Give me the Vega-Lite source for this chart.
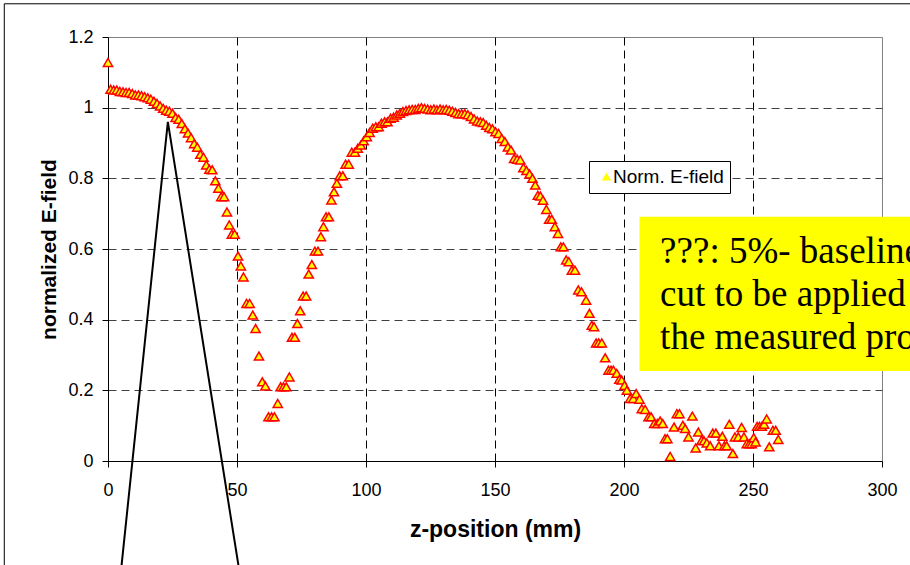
{
  "$schema": "https://vega.github.io/schema/vega-lite/v6.json",
  "width": 774,
  "height": 424,
  "autosize": {"type": "none"},
  "padding": {"left": 108, "top": 37, "right": 28, "bottom": 104},
  "background": "white",
  "config": {
    "view": {"stroke": "#808080", "strokeWidth": 1},
    "axis": {
      "labelFont": "Liberation Sans", "labelFontSize": 18, "labelColor": "#000",
      "titleFont": "Liberation Sans", "titleFontWeight": "bold", "titleColor": "#000",
      "domainColor": "#000", "tickColor": "#000", "tickSize": 6,
      "gridDash": [8, 5], "gridWidth": 1,
      "labelFlush": false, "labelOverlap": false, "labelBound": false
    }
  },
  "datasets": {
    "field": [
      {"z":0.0,"e":1.128},{"z":1.0,"e":1.052},{"z":2.2,"e":1.050},{"z":3.4,"e":1.050},{"z":4.6,"e":1.046},{"z":5.8,"e":1.045},{"z":7.0,"e":1.043},{"z":8.2,"e":1.043},{"z":9.4,"e":1.040},{"z":10.6,"e":1.036},{"z":11.8,"e":1.036},{"z":13.0,"e":1.034},{"z":14.2,"e":1.031},{"z":15.4,"e":1.028},{"z":16.6,"e":1.024},{"z":17.8,"e":1.018},{"z":19.0,"e":1.012},{"z":20.2,"e":1.005},{"z":21.4,"e":0.998},{"z":22.6,"e":0.993},{"z":23.8,"e":0.990},{"z":25.0,"e":0.984},{"z":26.2,"e":0.972},{"z":27.4,"e":0.967},{"z":28.6,"e":0.955},{"z":29.8,"e":0.940},{"z":31.0,"e":0.928},{"z":32.2,"e":0.915},{"z":33.4,"e":0.898},{"z":34.6,"e":0.888},{"z":35.8,"e":0.868},
      {"z":37.0,"e":0.860},{"z":38.1,"e":0.838},{"z":39.3,"e":0.826},{"z":40.4,"e":0.824},{"z":41.6,"e":0.793},{"z":42.8,"e":0.772},{"z":43.9,"e":0.748},{"z":45.0,"e":0.748},{"z":46.1,"e":0.705},{"z":47.0,"e":0.668},{"z":48.0,"e":0.642},{"z":49.1,"e":0.642},{"z":50.4,"e":0.580},{"z":51.5,"e":0.552},{"z":52.5,"e":0.521},{"z":53.7,"e":0.446},{"z":54.9,"e":0.446},{"z":56.1,"e":0.413},{"z":57.2,"e":0.375},{"z":58.5,"e":0.297},{"z":59.8,"e":0.224},{"z":61.0,"e":0.212},{"z":62.2,"e":0.125},{"z":63.4,"e":0.125},{"z":64.5,"e":0.125},{"z":65.8,"e":0.163},{"z":66.9,"e":0.210},{"z":68.0,"e":0.210},{"z":69.1,"e":0.210},{"z":70.3,"e":0.238},{"z":71.3,"e":0.350},{"z":72.4,"e":0.350},{"z":73.4,"e":0.389},{"z":74.5,"e":0.425},{"z":75.6,"e":0.467},{"z":76.8,"e":0.467},{"z":77.8,"e":0.529},{"z":79.0,"e":0.556},{"z":80.2,"e":0.594},{"z":81.4,"e":0.594},{"z":82.5,"e":0.635},{"z":83.5,"e":0.663},{"z":84.5,"e":0.691},{"z":85.6,"e":0.691},{"z":86.6,"e":0.739},{"z":87.6,"e":0.762},{"z":88.7,"e":0.786},{"z":89.8,"e":0.807},{"z":91.0,"e":0.807},{"z":92.1,"e":0.840},{"z":93.3,"e":0.840},{"z":94.5,"e":0.874},{"z":95.7,"e":0.874},{"z":96.8,"e":0.885},{"z":98.0,"e":0.894},{"z":99.1,"e":0.906},{"z":100.3,"e":0.918},{"z":101.4,"e":0.930},{"z":102.6,"e":0.942},{"z":103.8,"e":0.946},{"z":104.9,"e":0.946},{"z":106.0,"e":0.956},{"z":107.2,"e":0.960},{"z":108.3,"e":0.960},{"z":109.5,"e":0.970},{"z":110.7,"e":0.973},{"z":111.9,"e":0.979},{"z":113.1,"e":0.984},{"z":114.3,"e":0.989},{"z":115.5,"e":0.992},{"z":116.7,"e":0.994},{"z":117.9,"e":0.995},{"z":119.1,"e":0.995},{"z":120.3,"e":0.998},{"z":121.5,"e":1.000},{"z":122.7,"e":0.998},{"z":123.9,"e":0.996},{"z":125.1,"e":0.994},{"z":126.3,"e":0.996},{"z":127.5,"e":0.994},{"z":128.7,"e":0.996},{"z":129.9,"e":0.994},{"z":131.1,"e":0.995},{"z":132.3,"e":0.993},{"z":133.5,"e":0.990},{"z":134.7,"e":0.986},{"z":135.9,"e":0.983},{"z":137.1,"e":0.983},{"z":138.3,"e":0.983},{"z":139.5,"e":0.980},{"z":140.7,"e":0.975},{"z":141.9,"e":0.968},{"z":143.1,"e":0.962},{"z":144.3,"e":0.960},{"z":145.4,"e":0.958},{"z":146.6,"e":0.950},{"z":147.8,"e":0.944},{"z":149.0,"e":0.940},{"z":150.2,"e":0.932},{"z":151.4,"e":0.927},{"z":152.6,"e":0.913},{"z":153.8,"e":0.904},{"z":155.0,"e":0.889},{"z":156.2,"e":0.880},{"z":157.4,"e":0.856},{"z":158.6,"e":0.854},{"z":159.8,"e":0.852},{"z":161.0,"e":0.830},{"z":162.2,"e":0.822},{"z":163.4,"e":0.812},{"z":164.5,"e":0.800},{"z":165.6,"e":0.781},{"z":166.6,"e":0.752},{"z":167.6,"e":0.750},{"z":168.6,"e":0.738},{"z":169.9,"e":0.712},{"z":171.0,"e":0.684},{"z":172.0,"e":0.684},{"z":173.2,"e":0.663},{"z":174.4,"e":0.644},{"z":175.5,"e":0.606},{"z":176.5,"e":0.606},{"z":177.6,"e":0.569},{"z":178.6,"e":0.564},{"z":179.8,"e":0.540},{"z":181.0,"e":0.540},{"z":182.3,"e":0.484},{"z":183.5,"e":0.479},{"z":185.3,"e":0.455},{"z":186.6,"e":0.418},{"z":187.5,"e":0.384},{"z":188.4,"e":0.380},{"z":189.2,"e":0.334},{"z":190.2,"e":0.334},{"z":191.4,"e":0.334},{"z":192.7,"e":0.292},{"z":194.0,"e":0.257},{"z":195.0,"e":0.257},{"z":195.9,"e":0.257},{"z":197.2,"e":0.248},{"z":198.2,"e":0.231},{"z":199.1,"e":0.229},{"z":200.2,"e":0.214},{"z":201.1,"e":0.200},{"z":202.4,"e":0.177},{"z":203.6,"e":0.177},{"z":204.7,"e":0.191},{"z":206.0,"e":0.175},{"z":206.9,"e":0.148},{"z":208.2,"e":0.146},{"z":209.5,"e":0.125},{"z":210.5,"e":0.125},{"z":211.7,"e":0.106},{"z":212.9,"e":0.106},{"z":214.0,"e":0.113},{"z":215.0,"e":0.106},{"z":215.9,"e":0.063},{"z":216.8,"e":0.063},{"z":217.9,"e":0.013},{"z":219.4,"e":0.096},{"z":220.5,"e":0.134},{"z":221.5,"e":0.134},{"z":222.8,"e":0.101},{"z":223.7,"e":0.092},{"z":225.0,"e":0.068},{"z":226.5,"e":0.127},{"z":227.8,"e":0.037},{"z":228.8,"e":0.082},{"z":230.1,"e":0.059},{"z":231.0,"e":0.057},{"z":232.1,"e":0.051},{"z":233.4,"e":0.043},{"z":234.4,"e":0.079},{"z":235.6,"e":0.079},{"z":236.8,"e":0.043},{"z":238.1,"e":0.070},{"z":238.9,"e":0.043},{"z":239.8,"e":0.043},{"z":240.8,"e":0.104},{"z":242.2,"e":0.021},{"z":243.0,"e":0.068},{"z":244.3,"e":0.068},{"z":245.6,"e":0.095},{"z":246.5,"e":0.068},{"z":247.6,"e":0.049},{"z":248.6,"e":0.049},{"z":249.5,"e":0.049},{"z":250.3,"e":0.066},{"z":251.0,"e":0.054},{"z":251.6,"e":0.098},{"z":252.5,"e":0.098},{"z":253.4,"e":0.098},{"z":254.3,"e":0.104},{"z":255.3,"e":0.119},{"z":256.3,"e":0.040},{"z":257.7,"e":0.087},{"z":258.8,"e":0.087},{"z":259.8,"e":0.061}
    ],
    "outline": [
      {"z": 4.9, "e": -0.32, "k": 1},
      {"z": 23.2, "e": 0.96, "k": 2},
      {"z": 51.1, "e": -0.32, "k": 3}
    ],
    "frame": [
      {"z": -40.2, "z2": 330, "e": 1.294, "e2": -0.5}
    ],
    "notebox": [
      {"z": 206.0, "z2": 330, "e": 0.691, "e2": 0.255}
    ],
    "note": [
      {"z": 214.0, "e": 0.560, "line": "???: 5%- baseline"},
      {"z": 214.0, "e": 0.438, "line": "cut to be applied to"},
      {"z": 214.0, "e": 0.316, "line": "the measured profile"}
    ]
  },
  "layer": [
    {
      "data": {"name": "field"},
      "mark": {"type": "point", "filled": true, "fill": "#FFFF00", "stroke": "#FF0000", "strokeWidth": 1.5, "size": 85, "opacity": 1},
      "encoding": {
        "x": {
          "field": "z", "type": "quantitative",
          "scale": {"domain": [0, 300], "nice": false, "zero": false},
          "axis": {
            "values": [0, 50, 100, 150, 200, 250, 300],
            "grid": true, "gridColor": "#000",
            "gridOpacity": {"condition": {"test": "datum.value == 0 || datum.value == 300", "value": 0}, "value": 1},
            "title": "z-position (mm)", "titleFontSize": 23, "labelPadding": 14, "titlePadding": 19
          }
        },
        "y": {
          "field": "e", "type": "quantitative",
          "scale": {"domain": [0, 1.2], "nice": false},
          "axis": {
            "values": [0, 0.2, 0.4, 0.6, 0.8, 1, 1.2], "format": "~g",
            "grid": true, "gridColor": "#404040",
            "gridOpacity": {"condition": {"test": "datum.value == 0 || datum.value == 1.2", "value": 0}, "value": 1},
            "title": "normalized E-field", "titleFontSize": 21, "labelPadding": 9, "titlePadding": 8
          }
        },
        "shape": {
          "datum": "Norm. E-field",
          "scale": {"range": ["triangle-up"]},
          "legend": {
            "title": null, "orient": "none", "legendX": 481, "legendY": 124,
            "padding": 6, "strokeColor": "#000", "fillColor": "#fff", "cornerRadius": 0,
            "labelFont": "Liberation Sans", "labelFontSize": 19, "labelColor": "#000",
            "symbolSize": 85, "symbolFillColor": "#FFFF00", "symbolStrokeColor": "#FF0000",
            "symbolStrokeWidth": 1.5, "symbolOffset": 2, "labelOffset": -3
          }
        }
      }
    },
    {
      "data": {"name": "outline"},
      "mark": {"type": "line", "color": "#000", "strokeWidth": 2},
      "encoding": {
        "x": {"field": "z", "type": "quantitative"},
        "y": {"field": "e", "type": "quantitative"},
        "order": {"field": "k", "type": "quantitative"}
      }
    },
    {
      "data": {"name": "frame"},
      "mark": {"type": "rect", "fillOpacity": 0, "stroke": "#000", "strokeWidth": 1},
      "encoding": {
        "x": {"field": "z", "type": "quantitative"},
        "x2": {"field": "z2"},
        "y": {"field": "e", "type": "quantitative"},
        "y2": {"field": "e2"}
      }
    },
    {
      "data": {"name": "notebox"},
      "mark": {"type": "rect", "fill": "#FFFF00"},
      "encoding": {
        "x": {"field": "z", "type": "quantitative"},
        "x2": {"field": "z2"},
        "y": {"field": "e", "type": "quantitative"},
        "y2": {"field": "e2"}
      }
    },
    {
      "data": {"name": "note"},
      "mark": {
        "type": "text", "font": "Liberation Serif", "fontSize": 37,
        "align": "left", "baseline": "alphabetic", "color": "#000"
      },
      "encoding": {
        "x": {"field": "z", "type": "quantitative"},
        "y": {"field": "e", "type": "quantitative"},
        "text": {"field": "line", "type": "nominal"}
      }
    }
  ]
}
